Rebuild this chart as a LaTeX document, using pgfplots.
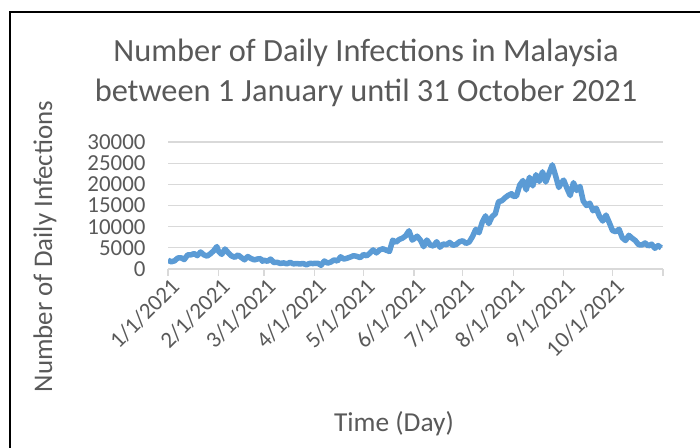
\documentclass[border=0pt]{standalone}
\usepackage{fontspec}
\setmainfont{Carlito}
\usepackage{pgfplots}
\pgfplotsset{compat=1.18}
\definecolor{txt}{HTML}{595959}
\definecolor{grd}{HTML}{D9D9D9}
\definecolor{ln}{HTML}{5B9BD5}

% day index (0 = 1 Jan 2021), daily new cases
\pgfplotstableread{
day cases
0 2068
2 1704
4 1923
6 2593
8 2643
10 2232
12 3309
14 3337
16 3631
18 3167
20 4008
22 3346
24 3048
26 3585
28 4275
30 5298
31 4214
33 3455
35 4714
37 3847
39 3096
41 2764
43 3318
45 2720
47 2176
49 2936
51 2461
53 2154
55 2364
57 2437
58 1828
59 2063
61 1828
63 2341
65 1529
67 1575
69 1317
71 1439
73 1217
75 1575
77 1208
79 1289
81 1194
83 1290
85 998
87 1316
89 1291
90 1309
92 1349
94 874
96 1889
98 1380
100 1643
102 2148
104 1889
106 2875
108 2341
110 2551
112 2827
114 3142
116 2978
118 2668
120 3418
122 3120
124 3744
126 4498
128 3807
130 4519
132 4765
134 4446
136 4140
138 6806
140 6320
142 6976
144 7289
146 7857
148 9020
150 6824
151 7105
153 7748
155 6824
157 5271
159 6849
161 5671
163 5419
165 6440
167 5150
169 5911
171 5738
173 6276
175 5586
177 5803
179 6437
181 6658
183 6045
185 6387
187 7654
189 9353
191 8574
193 11079
195 12541
197 10710
199 12366
201 13034
203 15902
205 16117
207 16840
209 17405
211 17786
212 17150
214 17236
216 19819
218 20889
220 18688
222 21668
224 19631
226 22262
228 20670
230 22948
232 20546
234 22597
236 24599
238 22070
240 19268
242 20579
243 20988
245 19057
247 17352
249 20396
251 18547
253 19495
255 16073
257 14990
259 15549
261 13754
263 14345
265 12434
267 11332
269 12735
271 10959
273 9066
275 8817
277 9380
279 7373
281 6732
283 7950
285 7276
287 6709
289 5745
291 5666
293 6145
295 5434
297 5863
299 4896
301 5524
303 4979
}\cases

\begin{document}
\begin{tikzpicture}[x=1bp,y=1bp]
\useasboundingbox (0,0) rectangle (700,448);
\draw[line width=2bp] (10,0) -- (10,436) -- (700,436);

\begin{axis}[
  at={(168bp,179bp)}, anchor=south west,
  width=495bp, height=127bp, scale only axis,
  xmin=0, xmax=304, ymin=0, ymax=30000,
  axis x line*=bottom, axis y line*=left,
  x axis line style={grd, line width=1.3bp, -},
  y axis line style={draw=none},
  ymajorgrids, grid style={grd, line width=1.3bp},
  xtick={0,31,59,90,120,151,181,212,243,273,304},
  xticklabels={1/1/2021,2/1/2021,3/1/2021,4/1/2021,5/1/2021,6/1/2021,7/1/2021,8/1/2021,9/1/2021,10/1/2021,},
  ytick={0,5000,...,30000},
  scaled y ticks=false,
  /pgf/number format/1000 sep={},
  /pgf/number format/assume math mode=true,
  xtick align=outside, major tick length=7bp,
  xtick style={grd, line width=1.3bp},
  ytick style={draw=none},
  tick label style={text=txt, font=\fontsize{23}{23}\selectfont},
  xticklabel style={rotate=45, anchor=east, xshift=4bp, yshift=-10bp},
  yticklabel style={xshift=-19bp},
]
\addplot[ln, line width=5.5bp, line join=round] table[x=day, y=cases] {\cases};
\end{axis}

\node[text=txt, font=\fontsize{32.5}{32.5}\selectfont, anchor=base] at (366,386) {Number of Daily Infections in Malaysia};
\node[text=txt, font=\fontsize{32.5}{32.5}\selectfont, anchor=base] at (366,346) {between 1 January until 31 October 2021};
\node[text=txt, font=\fontsize{27}{27}\selectfont, rotate=90] at (45,201.5) {Number of Daily Infections};
\node[text=txt, font=\fontsize{27.5}{27.5}\selectfont, anchor=base] at (394,16) {Time (Day)};
\end{tikzpicture}
\end{document}
